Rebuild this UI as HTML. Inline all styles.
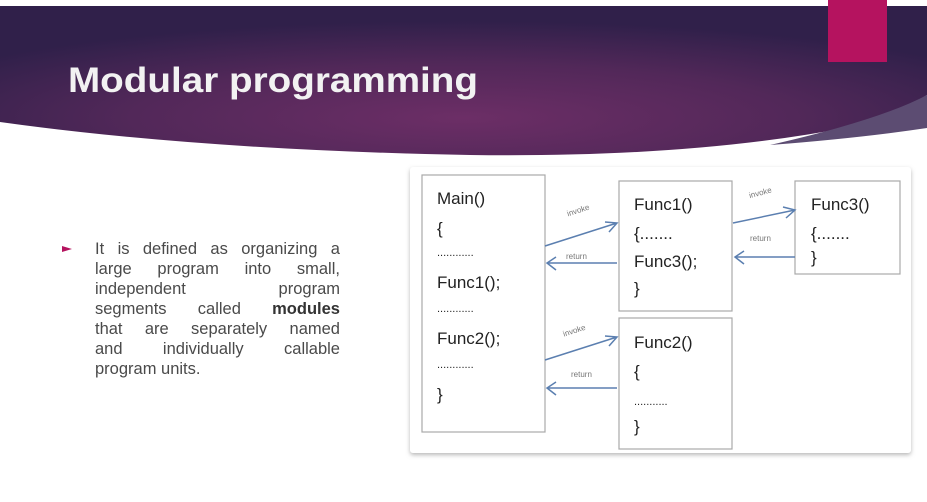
<!DOCTYPE html>
<html><head><meta charset="utf-8"><style>
html,body{margin:0;padding:0;background:#fff;}
body{width:927px;height:502px;position:relative;overflow:hidden;font-family:"Liberation Sans",sans-serif;}
.ln{position:absolute;left:95px;width:245px;display:flex;justify-content:space-between;font-size:16.5px;color:#4a4a4a;line-height:20px;}
</style></head><body>
<svg width="927" height="502" style="position:absolute;left:0;top:0">
<defs>
<radialGradient id="g" cx="0.5" cy="0.75" r="0.65">
<stop offset="0" stop-color="#6c2e66"/><stop offset="0.55" stop-color="#522859"/><stop offset="1" stop-color="#30204a"/>
</radialGradient>
<filter id="sh" x="-5%" y="-5%" width="110%" height="115%"><feDropShadow dx="0" dy="2" stdDeviation="2" flood-color="#888" flood-opacity="0.6"/></filter>
</defs>
<path d="M0 6 H927 V95 Q890 118 860 125 Q700 158 470 155 Q200 150 0 122 Z" fill="url(#g)"/>
<path d="M927 95 Q880 120 770 145 Q860 138 927 128 Z" fill="#5c4c72"/>
<rect x="828" y="0" width="59" height="62" fill="#b5135f"/>
<text x="68" y="92" font-family="Liberation Sans" font-weight="bold" font-size="35" fill="#f2f2f2" textLength="410" lengthAdjust="spacingAndGlyphs">Modular programming</text>
<path d="M62 246 L72 249 L62 252 Z" fill="#b5135f"/>
<rect x="410" y="167" width="501" height="286" fill="#fff" filter="url(#sh)" rx="3"/>
<g fill="#fff" stroke="#a9a9a9" stroke-width="1.2">
<rect x="422" y="175" width="123" height="257"/>
<rect x="619" y="181" width="113" height="130"/>
<rect x="795" y="181" width="105" height="93"/>
<rect x="619" y="318" width="113" height="131"/>
</g>
<g font-family="Liberation Sans" font-size="17" fill="#222">
<text x="437" y="204">Main()</text>
<text x="437" y="234">{</text>
<text x="437" y="256" font-size="11">............</text>
<text x="437" y="288">Func1();</text>
<text x="437" y="312" font-size="11">............</text>
<text x="437" y="344">Func2();</text>
<text x="437" y="368" font-size="11">............</text>
<text x="437" y="400">}</text>
<text x="634" y="210">Func1()</text>
<text x="634" y="239">{.......</text>
<text x="634" y="267">Func3();</text>
<text x="634" y="294">}</text>
<text x="811" y="210">Func3()</text>
<text x="811" y="239">{.......</text>
<text x="811" y="263">}</text>
<text x="634" y="348">Func2()</text>
<text x="634" y="377">{</text>
<text x="634" y="405" font-size="11">...........</text>
<text x="634" y="432">}</text>
</g>
<g stroke="#5b7fb0" stroke-width="1.5" fill="none">
<path d="M545 246 L617 223 M605 222 L617 223 L609 232"/>
<path d="M617 263 L547 263 M556 257 L547 263 L556 270"/>
<path d="M733 223 L795 210 M783 207 L795 210 L786 218"/>
<path d="M795 257 L735 257 M744 251 L735 257 L744 264"/>
<path d="M545 360 L617 337 M605 336 L617 337 L609 346"/>
<path d="M617 388 L547 388 M556 382 L547 388 L556 395"/>
</g>
<g font-family="Liberation Sans" font-size="8" fill="#777">
<text x="567" y="214" transform="rotate(-18 575 212)">invoke</text>
<text x="566" y="259">return</text>
<text x="749" y="196" transform="rotate(-15 758 194)">invoke</text>
<text x="750" y="241">return</text>
<text x="563" y="334" transform="rotate(-18 572 332)">invoke</text>
<text x="571" y="377">return</text>
</g>
</svg>
<div class="ln" style="top:239px"><span>It</span><span>is</span><span>defined</span><span>as</span><span>organizing</span><span>a</span></div>
<div class="ln" style="top:259px"><span>large</span><span>program</span><span>into</span><span>small,</span></div>
<div class="ln" style="top:279px"><span>independent</span><span>program</span></div>
<div class="ln" style="top:299px"><span>segments</span><span>called</span><span><b style="color:#333">modules</b></span></div>
<div class="ln" style="top:319px"><span>that</span><span>are</span><span>separately</span><span>named</span></div>
<div class="ln" style="top:339px"><span>and</span><span>individually</span><span>callable</span></div>
<div class="ln" style="top:359px;justify-content:flex-start"><span>program units.</span></div>
</body></html>
